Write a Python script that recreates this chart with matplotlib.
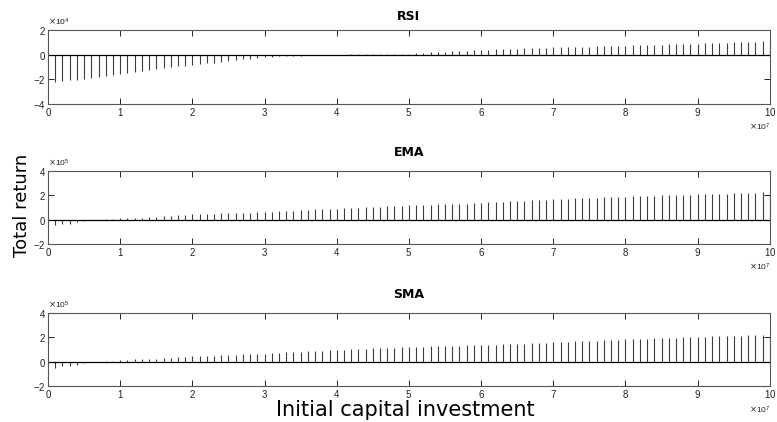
import numpy as np
import matplotlib
matplotlib.use('Agg')
import matplotlib.pyplot as plt

plt.rcParams['font.family'] = ['Liberation Sans', 'DejaVu Sans']

# investimento inicial: 1e6 ate 1e8, passo de 1e6
investimento = np.arange(1, 101) * 1e6

# retorno total (em unidades de 1e4)
rsi = [-2.26, -2.18, -2.10, -2.08, -1.95, -1.88, -1.80, -1.74, -1.66, -1.58,
       -1.48, -1.40, -1.32, -1.24, -1.15, -1.08, -1.00, -0.95, -0.89, -0.83,
       -0.77, -0.71, -0.65, -0.58, -0.52, -0.45, -0.39, -0.33, -0.27, -0.20,
       -0.16, -0.14, -0.12, -0.10, -0.08, -0.06, -0.04, -0.03, -0.02, -0.01,
       0.00, 0.01, 0.01, 0.02, 0.02, 0.03, 0.04, 0.05, 0.06, 0.08,
       0.11, 0.14, 0.17, 0.20, 0.23, 0.26, 0.29, 0.32, 0.35, 0.38,
       0.40, 0.42, 0.44, 0.46, 0.48, 0.50, 0.53, 0.55, 0.57, 0.60,
       0.61, 0.62, 0.63, 0.64, 0.65, 0.67, 0.69, 0.70, 0.72, 0.73,
       0.75, 0.76, 0.78, 0.79, 0.80, 0.82, 0.84, 0.86, 0.88, 0.90,
       0.92, 0.94, 0.96, 0.98, 1.00, 1.02, 1.04, 1.06, 1.08, 1.10]

# retorno total (em unidades de 1e5)
ema = [-0.41, -0.40, -0.33, -0.22, -0.12, -0.04, 0.00, 0.02, 0.05, 0.10,
       0.12, 0.15, 0.17, 0.20, 0.22, 0.26, 0.30, 0.35, 0.38, 0.42,
       0.44, 0.46, 0.48, 0.50, 0.51, 0.53, 0.55, 0.57, 0.60, 0.63,
       0.65, 0.67, 0.69, 0.72, 0.75, 0.80, 0.83, 0.86, 0.88, 0.91,
       0.94, 0.96, 0.99, 1.01, 1.04, 1.07, 1.09, 1.11, 1.13, 1.16,
       1.18, 1.20, 1.22, 1.24, 1.26, 1.28, 1.30, 1.32, 1.35, 1.38,
       1.41, 1.44, 1.46, 1.49, 1.52, 1.55, 1.58, 1.61, 1.63, 1.66,
       1.69, 1.71, 1.74, 1.76, 1.79, 1.81, 1.83, 1.85, 1.86, 1.88,
       1.90, 1.92, 1.94, 1.96, 1.98, 2.00, 2.01, 2.03, 2.05, 2.07,
       2.09, 2.10, 2.12, 2.14, 2.15, 2.17, 2.19, 2.22, 2.28, 2.35]

sma = [-0.47, -0.38, -0.33, -0.27, -0.12, -0.03, 0.01, 0.04, 0.08, 0.13,
       0.16, 0.19, 0.21, 0.24, 0.27, 0.30, 0.34, 0.37, 0.40, 0.44,
       0.46, 0.48, 0.50, 0.52, 0.55, 0.58, 0.61, 0.63, 0.66, 0.68,
       0.71, 0.74, 0.77, 0.80, 0.82, 0.85, 0.88, 0.91, 0.93, 0.96,
       0.99, 1.02, 1.05, 1.07, 1.10, 1.12, 1.14, 1.16, 1.18, 1.20,
       1.22, 1.24, 1.26, 1.27, 1.29, 1.31, 1.33, 1.35, 1.37, 1.40,
       1.41, 1.42, 1.43, 1.44, 1.45, 1.48, 1.51, 1.54, 1.56, 1.59,
       1.62, 1.65, 1.68, 1.70, 1.73, 1.75, 1.78, 1.81, 1.83, 1.86,
       1.88, 1.90, 1.91, 1.93, 1.95, 1.97, 1.99, 2.01, 2.03, 2.05,
       2.07, 2.09, 2.11, 2.13, 2.14, 2.16, 2.19, 2.21, 2.24, 2.27]

paineis = [
    ('RSI', np.array(rsi) * 1e4, 4, [-4, -2, 0, 2], [0.754, 0.175], 7),
    ('EMA', np.array(ema) * 1e5, 5, [-2, 0, 2, 4], [0.422, 0.173], 11),
    ('SMA', np.array(sma) * 1e5, 5, [-2, 0, 2, 4], [0.085, 0.173], 11),
]

fig = plt.figure(figsize=(7.77, 4.22), dpi=100)

for titulo, valores, ordem, yticks, (base, altura), pad in paineis:
    ax = fig.add_axes([0.0618, base, 0.929, altura])
    marcadores, linhas, linha_base = ax.stem(investimento, valores, basefmt='k-')
    marcadores.set_visible(False)
    linhas.set_color('#3c3c3c')
    linhas.set_linewidth(0.8)
    linha_base.set_xdata([0, 1e8])
    linha_base.set_linewidth(0.9)
    ax.set_xlim(0, 1e8)
    ax.set_ylim(yticks[0] * 10 ** ordem, yticks[-1] * 10 ** ordem)
    ax.set_xticks(np.arange(0, 11) * 1e7)
    ax.set_yticks(np.array(yticks) * 10 ** ordem)
    ax.ticklabel_format(axis='x', style='sci', scilimits=(7, 7), useMathText=True)
    ax.ticklabel_format(axis='y', style='sci', scilimits=(ordem, ordem), useMathText=True)
    ax.tick_params(direction='in', top=True, right=True, length=4, width=0.7,
                   labelsize=7, pad=1.5, colors='#222222')
    ax.xaxis.get_offset_text().set_fontsize(6)
    ax.yaxis.get_offset_text().set_fontsize(6)
    for lado in ax.spines.values():
        lado.set_linewidth(0.8)
        lado.set_color('#555555')
    ax.set_title(titulo, fontsize=9, fontweight='bold', pad=pad,
                 family=['DejaVu Sans'])

fig.text(0.028, 0.514, 'Total return', rotation=90, ha='center', va='center',
         fontsize=13, family=['DejaVu Sans'])
fig.text(0.522, 0.051, 'Initial capital investment', ha='center', va='top',
         fontsize=15, family=['DejaVu Sans'])

fig.savefig('out.png', dpi=100)
